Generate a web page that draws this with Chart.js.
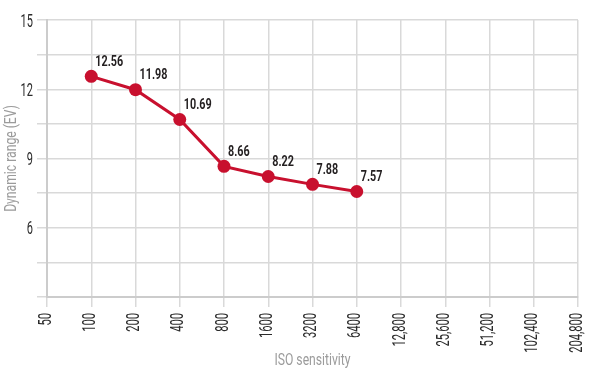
<!DOCTYPE html>
<html>
<head>
<meta charset="utf-8">
<script src="https://cdn.jsdelivr.net/npm/chart.js@4"></script>
<style>
  html, body { margin: 0; padding: 0; background: #fff; }
</style>
</head>
<body>
<canvas id="drChart" width="600" height="378"></canvas>
<script>
// --- Data ---
const isoLabels = ["50", "100", "200", "400", "800", "1600", "3200", "6400",
  "12,800", "25,600", "51,200", "102,400", "204,800"];
const dynamicRange = [null, 12.56, 11.98, 10.69, 8.66, 8.22, 7.88, 7.57,
  null, null, null, null, null];
const yLabelled = [6, 9, 12, 15];
const xTitle = "ISO sensitivity";
const yTitle = "Dynamic range (EV)";

const FONT = "Roboto, 'DejaVu Sans', sans-serif";
const RED = "#c8102e";
const GRID = "#d9d9d9";

// The reference uses a very narrow typeface; squeeze Roboto horizontally
function squeezed(ctx, text, x, y, opts) {
  ctx.save();
  ctx.translate(x, y);
  if (opts.rotate) ctx.rotate(opts.rotate);
  ctx.scale(opts.sx, 1);
  ctx.font = (opts.weight || "normal") + " " + opts.size + "px " + FONT;
  ctx.fillStyle = opts.color;
  ctx.textAlign = opts.align || "left";
  ctx.textBaseline = opts.baseline || "alphabetic";
  ctx.fillText(text, 0, 0);
  ctx.restore();
}

// --- All text drawn from the scales' own pixel positions ---
const narrowText = {
  id: "narrowText",
  afterDraw(chart) {
    const ctx = chart.ctx;
    const xs = chart.scales.x;
    const ys = chart.scales.y;
    const area = chart.chartArea;

    // y tick labels
    yLabelled.forEach((v) => {
      squeezed(ctx, String(v), ys.right - 14, ys.getPixelForValue(v) + 6.5,
        { size: 19, sx: 0.58, color: "#2b2b2b", align: "right" });
    });

    // x tick labels, rotated, reading bottom to top
    isoLabels.forEach((lab, i) => {
      squeezed(ctx, lab, xs.getPixelForValue(i) - 1, area.bottom + 16,
        { size: 18, sx: 0.62, color: "#2b2b2b", align: "right",
          baseline: "middle", rotate: -Math.PI / 2 });
    });

    // axis titles
    squeezed(ctx, xTitle, (area.left + area.right) / 2, 365,
      { size: 16, sx: 0.76, color: "#9b9b9b", align: "center" });
    squeezed(ctx, yTitle, 12, (area.top + area.bottom) / 2,
      { size: 16, sx: 0.76, color: "#9b9b9b", align: "center",
        baseline: "middle", rotate: -Math.PI / 2 });

    // value labels above-right of each point
    const meta = chart.getDatasetMeta(0);
    meta.data.forEach((pt, i) => {
      const v = dynamicRange[i];
      if (v === null) return;
      squeezed(ctx, v.toFixed(2), pt.x + 4, pt.y - 10.5,
        { size: 15, sx: 0.72, weight: "bold", color: "#231f20" });
    });
  }
};

new Chart(document.getElementById("drChart"), {
  type: "line",
  data: {
    labels: isoLabels,
    datasets: [{
      data: dynamicRange,
      borderColor: RED,
      backgroundColor: RED,
      borderWidth: 3,
      pointRadius: 6.5,
      pointHoverRadius: 6.5,
      pointBorderWidth: 0,
      tension: 0,
      spanGaps: false
    }]
  },
  options: {
    responsive: false,
    animation: false,
    layout: { padding: { top: 20, right: 22, left: 0, bottom: 0 } },
    plugins: { legend: { display: false }, tooltip: { enabled: false } },
    scales: {
      x: {
        offset: false,
        grid: { color: GRID, tickLength: 10, lineWidth: 1.5 },
        border: { color: "#cccccc", width: 2 },
        ticks: {
          autoSkip: false,
          minRotation: 90,
          maxRotation: 90,
          color: "rgba(0,0,0,0)",
          font: { size: 8 }
        },
        afterFit(scale) { scale.height = 81; }
      },
      y: {
        min: 3,
        max: 15,
        grid: { color: GRID, tickLength: 10, lineWidth: 1.5 },
        border: { color: "#cccccc", width: 2 },
        ticks: {
          stepSize: 1.5,
          color: "rgba(0,0,0,0)",
          font: { size: 8 }
        },
        afterFit(scale) { scale.width = 47; }
      }
    }
  },
  plugins: [narrowText]
});
</script>
</body>
</html>
